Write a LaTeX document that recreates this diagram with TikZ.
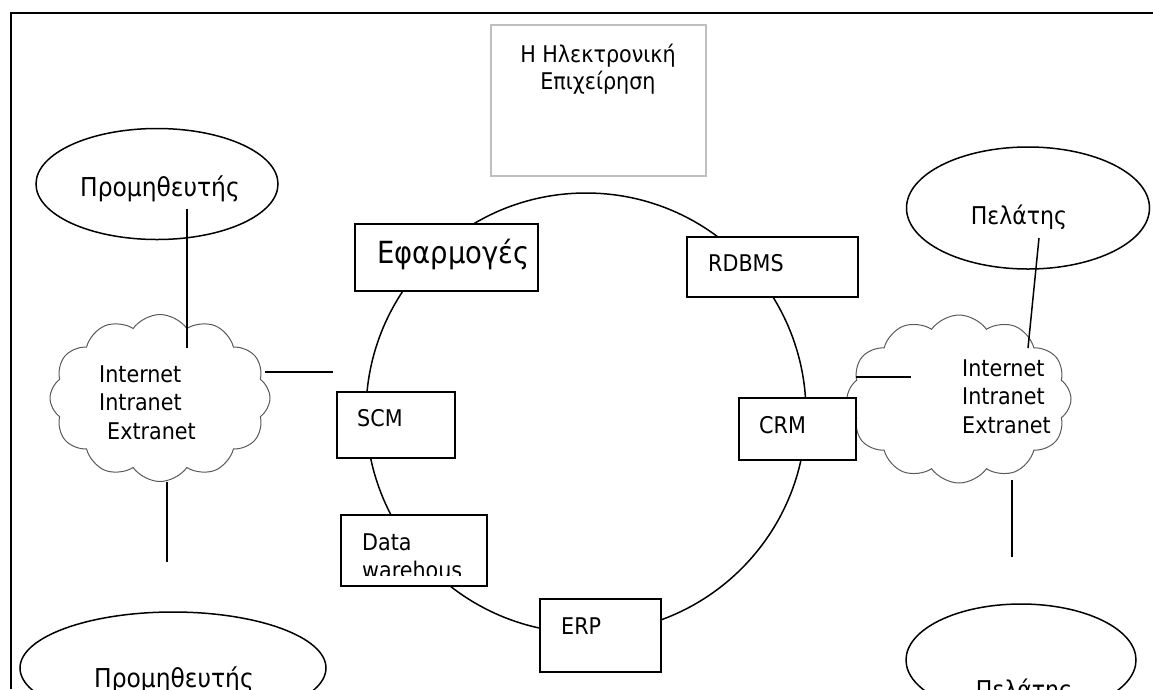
\documentclass[tikz,border=0pt]{standalone}
\usepackage{fontspec}
\setmainfont{DejaVu Sans Condensed}
\usetikzlibrary{shapes.geometric,shapes.symbols}
\begin{document}
\begin{tikzpicture}[x=1pt,y=-1pt,
  txt/.style={font=\fontsize{23}{28}\selectfont, inner sep=0pt},
  supt/.style={font=\fontsize{26}{30}\selectfont, inner sep=0pt},
  clit/.style={font=\fontsize{24.5}{30}\selectfont, inner sep=0pt},
  bigtxt/.style={font=\fontsize{30.5}{34}\selectfont, inner sep=0pt},
  appbox/.style={draw, line width=1.5pt, fill=white, inner sep=0pt},
  ell/.style={ellipse, draw, line width=1.5pt, inner sep=0pt},
  net/.style={cloud, cloud puffs=12, cloud puff arc=110, draw=black!65, line width=1pt, inner sep=0pt},
  link/.style={line width=1.5pt}]
\useasboundingbox (0,0) rectangle (1153,689);
\clip (0,0) rectangle (1153,689);
% frame
\draw[line width=1.6pt] (11,689) -- (11,13) -- (1153,13);
% title box
\node[draw=black!25, line width=1.2pt, minimum width=215pt, minimum height=151pt, inner sep=0pt] (title) at (598.5,100.5) {};
\node[txt, anchor=base] (t1) at (598,62) {Η Ηλεκτρονική};
\node[txt, anchor=base] (t2) at (598,89) {Επιχείρηση};
% ring
\node[circle, draw, line width=1.5pt, minimum size=440pt, inner sep=0pt] (ring) at (586,413) {};
% clouds
\node[net, minimum width=220pt, minimum height=167pt] (lnet) at (160,398) {};
\node[net, minimum width=224pt, minimum height=168pt] (rnet) at (959,399) {};
\node[txt, anchor=base west] (ln1) at (99,382) {Internet};
\node[txt, anchor=base west] (ln2) at (99,410) {Intranet};
\node[txt, anchor=base west] (ln3) at (107,439) {Extranet};
\node[txt, anchor=base west] (rn1) at (962,376) {Internet};
\node[txt, anchor=base west] (rn2) at (962,404) {Intranet};
\node[txt, anchor=base west] (rn3) at (962,433) {Extranet};
% boxes
\node[appbox, minimum width=183pt, minimum height=67pt] (app) at (446.5,257.5) {};
\node[bigtxt, anchor=base west] (appt) at (377,263) {Εφαρμογές};
\node[appbox, minimum width=171pt, minimum height=60pt] (rdbms) at (772.5,267) {};
\node[txt, anchor=base west] (rdbmst) at (708,271) {RDBMS};
\node[appbox, minimum width=118pt, minimum height=66pt] (scm) at (396,425) {};
\node[txt, anchor=base west] (scmt) at (357,426) {SCM};
\node[appbox, minimum width=146pt, minimum height=71pt] (dw) at (414,550.5) {};
\node[txt, anchor=base west] (dwt1) at (362,550) {Data};
\begin{scope}
\clip (341,515) rectangle (487,575);
\node[txt, anchor=base west] (dwt2) at (362,578) {warehous};
\end{scope}
\node[appbox, minimum width=121pt, minimum height=73pt] (erp) at (600.5,635.5) {};
\node[txt, anchor=base west] (erpt) at (561,634) {ERP};
\node[appbox, minimum width=117pt, minimum height=62pt] (crm) at (797.5,429) {};
\node[txt, anchor=base west] (crmt) at (759,433) {CRM};
% ellipses
\node[ell, minimum width=242pt, minimum height=111pt] (sup1) at (157,184) {};
\node[supt, anchor=base] (sup1t) at (160,196) {Προμηθευτής};
\node[ell, minimum width=306pt, minimum height=112pt] (sup2) at (173,668) {};
\node[supt, anchor=base] (sup2t) at (174,687) {Προμηθευτής};
\node[ell, minimum width=243pt, minimum height=122pt] (cli1) at (1028,208) {};
\node[clit, anchor=base] (cli1t) at (1019,224) {Πελάτης};
\node[ell, minimum width=230pt, minimum height=112pt] (cli2) at (1021,660) {};
\node[clit, anchor=base] (cli2t) at (1024,698) {Πελάτης};
% connectors
\coordinate (a1) at (187,209); \coordinate (a2) at (187,348);
\coordinate (b1) at (265,372); \coordinate (b2) at (333,372);
\coordinate (c1) at (167,482); \coordinate (c2) at (167,562);
\coordinate (d1) at (1039,238); \coordinate (d2) at (1028,348);
\coordinate (e1) at (856,377); \coordinate (e2) at (911,377);
\coordinate (f1) at (1012,480); \coordinate (f2) at (1012,557);
\draw[link] (a1) -- (a2);
\draw[link] (b1) -- (b2);
\draw[link] (c1) -- (c2);
\draw[link] (d1) -- (d2);
\draw[link] (e1) -- (e2);
\draw[link] (f1) -- (f2);
\end{tikzpicture}
\end{document}
